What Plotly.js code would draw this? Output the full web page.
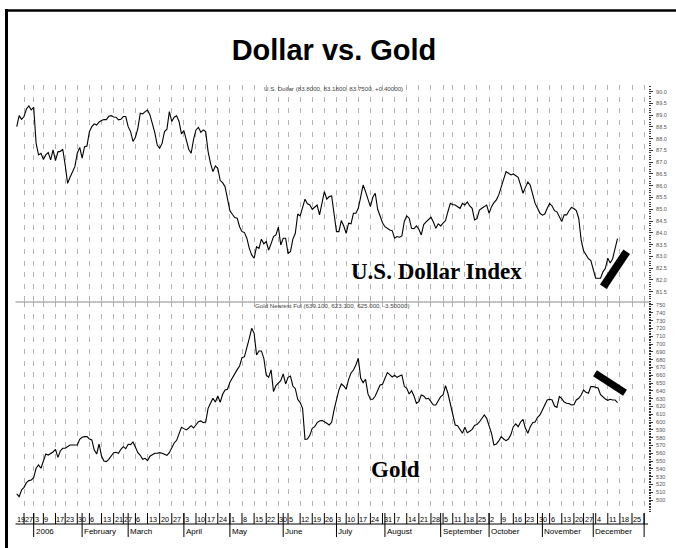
<!DOCTYPE html>
<html><head><meta charset="utf-8">
<script src="https://cdn.plot.ly/plotly-3.0.1.min.js"></script>
<style>html,body{margin:0;padding:0;background:#fff}</style>
</head><body>
<div id="chart" style="width:676px;height:548px"></div>
<script>
// ---------------- data ----------------
const usdValues = [
88.51,88.98,88.82,88.94,89.26,89.39,89.22,89.33,87.80,87.31,
87.38,87.12,87.31,87.41,87.10,87.52,87.07,87.44,87.46,87.55,
86.88,86.10,86.36,86.57,86.81,87.38,87.63,87.17,87.66,87.69,
88.30,88.51,88.63,88.58,88.71,88.77,88.81,88.81,88.95,88.98,
88.92,88.91,88.80,88.82,88.94,88.94,88.51,88.30,87.88,88.06,
88.44,89.08,89.05,89.15,89.22,89.01,88.65,88.26,87.73,87.59,
87.80,88.30,88.40,89.15,88.73,88.91,88.97,88.73,88.20,88.34,
87.95,87.55,87.38,87.97,88.37,88.48,88.27,88.37,88.30,87.45,
86.95,86.60,86.84,86.74,86.22,86.13,85.96,85.47,84.94,84.79,
84.65,84.62,84.26,84.05,84.01,83.77,83.34,83.06,82.92,83.41,
83.34,83.73,83.53,83.63,83.27,83.53,83.84,83.91,84.24,83.48,
83.77,83.77,83.13,83.20,83.73,83.98,84.80,84.72,85.04,85.43,
85.23,85.18,85.00,85.08,85.18,84.76,85.25,85.75,85.43,85.54,
85.57,84.69,84.05,84.05,84.52,84.29,83.98,84.41,84.38,84.83,
84.83,85.04,85.61,86.03,85.75,85.37,85.11,85.51,85.68,85.00,
84.69,84.43,84.26,84.18,84.12,84.09,83.77,83.84,83.81,83.87,
84.48,84.72,84.62,84.19,84.18,84.29,84.15,83.91,84.35,84.46,
84.55,84.66,84.46,84.19,84.38,84.29,84.41,84.52,84.90,85.25,
85.20,85.18,85.11,85.04,85.25,85.18,85.31,85.14,85.04,84.55,
84.60,84.97,85.04,85.11,85.18,84.83,85.11,85.28,85.40,85.61,
85.93,86.32,86.60,86.53,86.46,86.50,86.42,86.36,86.03,85.68,
85.93,86.16,86.02,85.61,85.25,85.04,84.83,84.75,84.80,85.04,
85.25,85.14,84.94,84.89,84.69,84.48,84.76,84.76,84.94,85.08,
85.03,84.94,84.62,83.70,83.24,83.06,82.90,82.82,82.42,82.07,
82.07,82.07,82.34,82.49,82.92,82.72,82.90,83.30,83.75
];
const goldValues = [
507.9,504.5,513.0,516.4,522.4,525.0,525.8,528.8,540.8,545.0,
540.8,551.4,559.1,557.8,559.6,561.7,565.1,554.8,563.0,566.4,
566.4,568.1,570.6,570.6,570.6,570.6,577.9,580.5,581.3,581.3,
578.3,577.1,564.2,559.1,571.9,556.6,550.2,549.3,552.3,557.0,
560.8,561.2,560.0,565.1,568.5,565.9,571.5,571.1,574.5,567.7,
560.8,557.4,552.3,553.6,550.6,556.2,558.3,560.0,560.0,560.8,
560.0,558.3,557.4,560.8,566.4,573.2,576.6,585.6,593.3,591.6,
589.9,592.4,595.4,592.4,596.3,600.5,601.4,599.3,600.1,617.6,
624.0,630.4,625.7,633.4,625.3,635.6,641.1,642.0,651.0,656.9,
663.3,667.2,671.9,682.5,683.8,694.5,707.3,720.1,713.7,686.0,
691.1,691.1,681.7,660.3,657.3,666.8,639.0,646.7,650.5,653.1,
661.6,648.8,657.3,659.0,646.2,642.8,629.2,624.9,617.6,577.9,
578.3,583.0,592.0,594.1,599.3,601.4,602.2,599.7,598.4,596.3,
599.7,615.5,630.0,641.1,648.8,646.2,642.0,654.8,662.9,666.7,
673.1,681.7,656.1,650.5,654.8,636.0,629.2,629.2,633.4,641.1,
647.5,648.4,656.1,663.3,660.8,657.8,659.9,657.3,659.0,660.3,
645.8,643.2,636.0,640.2,633.4,624.0,626.1,634.7,633.4,629.6,
630.4,625.3,621.9,621.9,628.3,632.6,634.7,646.7,636.9,624.0,
609.1,596.3,595.4,589.9,585.6,593.3,586.5,588.2,590.7,595.8,
596.7,600.1,604.8,609.1,604.8,596.3,585.6,570.6,571.9,575.8,
581.3,578.3,576.2,578.3,583.9,594.1,597.6,594.1,600.1,603.5,
592.0,585.6,594.1,599.3,600.1,606.1,609.1,615.5,621.9,628.3,
629.2,628.3,620.6,618.9,632.6,630.0,625.7,624.0,623.6,621.9,
622.3,628.3,630.4,634.7,641.1,638.1,636.9,645.4,645.4,645.0,
643.7,635.1,631.7,629.6,627.9,629.2,628.3,628.3,625.0
];
const firstDataDay = '2005-12-21';
const calendarStart = '2005-12-19';
const calendarEnd = '2007-01-05';
const holidays = ['2005-12-26','2006-01-02','2006-01-16','2006-02-20','2006-04-14',
                  '2006-05-29','2006-07-04','2006-09-04','2006-11-23'];
const monthLabels = ['2006','February','March','April','May','June','July','August',
                     'September','October','November','December',''];
const usdTicks = ['81.5','82.0','82.5','83.0','83.5','84.0','84.5','85.0','85.5','86.0',
                  '86.5','87.0','87.5','88.0','88.5','89.0','89.5','90.0'];
const goldTicks = ['500','510','520','530','540','550','560','570','580','590','600','610',
                   '620','630','640','650','660','670','680','690','700','710','720','730','740','750'];
const usdTitle = 'U.S. Dollar (83.8000, 83.1800, 83.7500, +0.40000)';
const goldTitle = 'Gold Nearest Ful (639.100, 623.100, 625.000, -3.50000)';

// ---------------- calendar (trading-day axis) ----------------
const W = 676, H = 548;
const px = v => v / W, py = v => 1 - v / H;
const cal = [];
for (let t = Date.parse(calendarStart + 'T00:00:00Z'); t <= Date.parse(calendarEnd + 'T00:00:00Z'); t += 86400000) {
  const d = new Date(t), wd = d.getUTCDay();
  if (wd === 0 || wd === 6) continue;
  const iso = d.toISOString().slice(0, 10);
  if (holidays.includes(iso)) continue;
  cal.push(d);
}
const offset = cal.findIndex(d => d.toISOString().slice(0, 10) === firstDataDay);
const XMIN = -0.51, XMAX = 260.6;
const weekTicks = [], weekText = [], monthTicks = [];
cal.forEach((d, k) => {
  const x = k - offset;
  if (k === 0 || d.getUTCDay() <= cal[k - 1].getUTCDay()) { weekTicks.push(x); weekText.push(String(d.getUTCDate())); }
  if (k > 0 && d.getUTCMonth() !== cal[k - 1].getUTCMonth()) monthTicks.push(x);
});
const xs = usdValues.map((_, i) => i);

// ---------------- traces ----------------
const traces = [
  {x: xs, y: usdValues, xaxis: 'x', yaxis: 'y', type: 'scatter', mode: 'lines',
   line: {color: '#000', width: 1.1}, hoverinfo: 'skip'},
  {x: xs, y: goldValues, xaxis: 'x2', yaxis: 'y2', type: 'scatter', mode: 'lines',
   line: {color: '#000', width: 1.1}, hoverinfo: 'skip'}
];

// ---------------- shapes & annotations ----------------
const shapes = [], ann = [];
const inRange = x => x >= XMIN && x <= XMAX;
weekTicks.forEach((x, j) => {
  if (inRange(x)) shapes.push({type: 'line', xref: 'x2', yref: 'paper', x0: x, x1: x, y0: py(513), y1: py(524), line: {color: '#000', width: 1}});
  const lx = Math.max(x, XMIN);
  if (lx < XMAX - 3) ann.push({xref: 'x2', yref: 'paper', x: lx, y: py(519), xanchor: 'left', yanchor: 'middle',
    text: weekText[j], showarrow: false, font: {size: 7.3, color: '#000'}, borderpad: 0, xshift: 0});
});
monthTicks.forEach((x, j) => {
  if (!inRange(x)) return;
  shapes.push({type: 'line', xref: 'x2', yref: 'paper', x0: x, x1: x, y0: py(513), y1: py(537), line: {color: '#000', width: 1}});
  if (monthLabels[j]) ann.push({xref: 'x2', yref: 'paper', x: x, y: py(531), xanchor: 'left', yanchor: 'middle',
    text: monthLabels[j], showarrow: false, font: {size: 8, color: '#000'}, borderpad: 0, xshift: 1});
});
shapes.push({type: 'line', xref: 'paper', yref: 'paper', x0: px(15.5), x1: px(648), y0: py(524), y1: py(524), line: {color: '#000', width: 1}});
// panel separator
shapes.push({type: 'line', xref: 'paper', yref: 'paper', x0: px(15.5), x1: px(650), y0: py(302), y1: py(302), line: {color: '#888', width: 1}});
// hand-drawn trend strokes
shapes.push({type: 'line', xref: 'paper', yref: 'paper', x0: px(603.3), y0: py(286.7), x1: px(626.7), y1: py(251.7), line: {color: '#000', width: 8}});
shapes.push({type: 'line', xref: 'paper', yref: 'paper', x0: px(595), y0: py(373.3), x1: px(625), y1: py(392.7), line: {color: '#000', width: 7}});
// frame
shapes.push({type: 'line', xref: 'paper', yref: 'paper', x0: px(6.5), x1: px(6.5), y0: py(9), y1: py(548), line: {color: '#000', width: 3}});
shapes.push({type: 'line', xref: 'paper', yref: 'paper', x0: px(5), x1: px(676), y0: py(10.5), y1: py(10.5), line: {color: '#000', width: 2.5}});

ann.push({xref: 'paper', yref: 'paper', x: px(333), y: py(88.4), xanchor: 'center', yanchor: 'middle', text: usdTitle, showarrow: false, font: {size: 6.2, color: '#444'}});
ann.push({xref: 'paper', yref: 'paper', x: px(331.7), y: py(305.7), xanchor: 'center', yanchor: 'middle', text: goldTitle, showarrow: false, font: {size: 6.2, color: '#444'}});
ann.push({xref: 'paper', yref: 'paper', x: px(436), y: py(271), xanchor: 'center', yanchor: 'middle', text: '<b>U.S. Dollar Index</b>', showarrow: false, font: {size: 23, color: '#000', family: 'Liberation Serif, Times New Roman, serif'}});
ann.push({xref: 'paper', yref: 'paper', x: px(395), y: py(469), xanchor: 'center', yanchor: 'middle', text: '<b>Gold</b>', showarrow: false, font: {size: 23, color: '#000', family: 'Liberation Serif, Times New Roman, serif'}});

const xCommon = {domain: [px(15.5), px(648)], range: [XMIN, XMAX], tickmode: 'array', tickvals: weekTicks,
  showticklabels: false, ticks: '', showgrid: true, gridcolor: '#b4b4b4', griddash: '5px,6.7px', gridwidth: 1,
  zeroline: false, showline: false, fixedrange: true};
const yCommon = {side: 'right', ticks: 'outside', ticklen: 4, tickwidth: 1, tickcolor: '#333', showgrid: false,
  zeroline: false, showline: false, tickfont: {size: 5.5, color: '#555'}, ticklabelstandoff: 2, fixedrange: true};

const layout = {
  width: W, height: H, margin: {l: 0, r: 0, t: 0, b: 0}, paper_bgcolor: '#fff', plot_bgcolor: '#fff',
  showlegend: false, hovermode: false,
  font: {family: 'Liberation Sans, Arial, sans-serif', color: '#000'},
  title: {text: '<b>Dollar vs. Gold</b>', font: {size: 29, color: '#000', family: 'Liberation Sans, Arial, sans-serif'},
          x: px(334), xanchor: 'center', xref: 'paper', y: py(50), yanchor: 'middle', yref: 'paper'},
  xaxis: Object.assign({}, xCommon, {anchor: 'y'}),
  xaxis2: Object.assign({}, xCommon, {anchor: 'y2', matches: 'x'}),
  yaxis: Object.assign({}, yCommon, {anchor: 'x', domain: [py(302), py(85)], range: [81.06, 90.28],
    tickmode: 'array', tickvals: usdTicks.map(Number), ticktext: usdTicks,
    minor: {tickmode: 'linear', tick0: 0, dtick: 0.1, ticks: 'outside', ticklen: 2, tickcolor: '#333', showgrid: false}}),
  yaxis2: Object.assign({}, yCommon, {anchor: 'x2', domain: [py(512), py(302)], range: [484.8, 753.8],
    tickmode: 'array', tickvals: goldTicks.map(Number), ticktext: goldTicks,
    minor: {tickmode: 'linear', tick0: 0, dtick: 2, ticks: 'outside', ticklen: 2, tickcolor: '#333', showgrid: false}}),
  shapes: shapes, annotations: ann
};
Plotly.newPlot('chart', traces, layout, {displayModeBar: false, staticPlot: true});
</script>
</body></html>
